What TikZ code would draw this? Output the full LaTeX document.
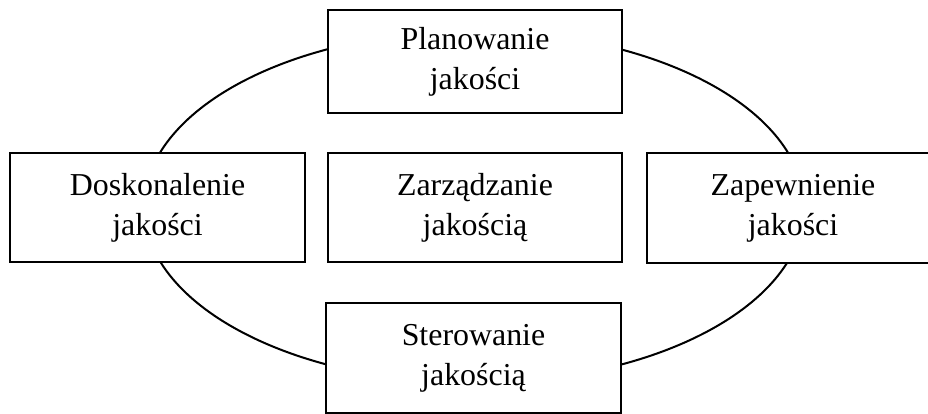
\documentclass[tikz,border=0pt]{standalone}
\usepackage{fontspec}
\setmainfont{Liberation Serif}
\begin{document}
\begin{tikzpicture}[x=1pt,y=1pt,
  box/.style={draw=black, line width=1.9pt, fill=white, inner sep=0pt,
    align=center, font=\fontsize{31.9}{40}\selectfont},
  ring/.style={draw=black, line width=2pt}]
\clip (0,0) rectangle (928,414);
% ring linking the four stages, behind the boxes
\draw[ring] (474,207) ellipse [x radius=330, y radius=176];
% stages
\node[box, minimum width=294, minimum height=103] (plan) at (475,352.5) {Planowanie\\jakości};
\node[box, minimum width=295, minimum height=109] (dosk) at (157.5,206.5) {Doskonalenie\\jakości};
\node[box, minimum width=294, minimum height=109] (zarz) at (475,206.5) {Zarządzanie\\jakością};
\node[box, minimum width=292, minimum height=110] (zapew) at (793,206) {Zapewnienie\\jakości};
\node[box, minimum width=295, minimum height=110] (ster) at (473.5,56) {Sterowanie\\jakością};
\end{tikzpicture}
\end{document}
